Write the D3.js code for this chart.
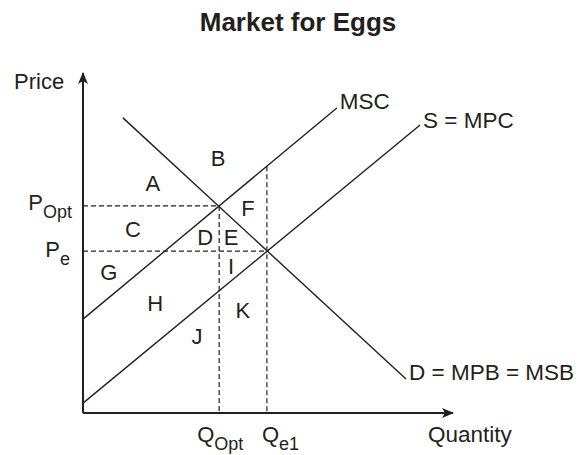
<!DOCTYPE html>
<html>
<head>
<meta charset="utf-8">
<script src="https://cdn.jsdelivr.net/npm/d3@7"></script>
<style>
  body { margin: 0; background: #fff; }
  text { font-family: "Liberation Sans", Arial, sans-serif; fill: #231f20; }
</style>
</head>
<body>
<svg id="drawing_region"></svg>
<script>
// curves as [quantity, price] end points
const mscLine = [[0, 27.6], [68.6, 89.7]];
const mpcLine = [[0, 2.9], [91.1, 84.7]];
const demandLine = [[10.8, 86.8], [87.3, 10.0]];

const curveNames = ["MSC", "S = MPC", "D = MPB = MSB"];

// equilibrium points
const qOpt = 36.8, pOpt = 60.9;
const qE1 = 49.7, pE = 47.6;

// area letters [label, quantity, price]
const areaLabels = [
    ["A", 18.9, 67.6], ["B", 36.5, 75.0], ["C", 13.5, 54.1],
    ["D", 33.0, 51.8], ["E", 40.0, 51.8], ["F", 44.6, 60.3],
    ["G", 7.0, 41.5], ["H", 19.5, 32.4], ["I", 40.0, 43.2],
    ["J", 30.8, 22.6], ["K", 43.2, 30.3]
];

const config = {
    width: 584,
    height: 455,
    margin: {top: 73, right: 131, bottom: 42, left: 83}
};

const svg = d3.select('#drawing_region')
    .attr('width', config.width)
    .attr('height', config.height);

const inner_width = config.width - config.margin.left - config.margin.right;
const inner_height = config.height - config.margin.top - config.margin.bottom;

const chart = svg.append('g')
    .attr('transform', `translate(${config.margin.left}, ${config.margin.top})`);

const xscale = d3.scaleLinear().domain([0, 100]).range([0, inner_width]);
const yscale = d3.scaleLinear().domain([0, 100]).range([inner_height, 0]);

const ink = '#231f20';

// arrow head
svg.append('defs').append('marker')
    .attr('id', 'arrow')
    .attr('viewBox', '0 0 12 10')
    .attr('refX', 11)
    .attr('refY', 5)
    .attr('markerWidth', 12)
    .attr('markerHeight', 10)
    .attr('markerUnits', 'userSpaceOnUse')
    .attr('orient', 'auto')
    .append('path')
    .attr('d', 'M0,0 L12,5 L0,10 L3,5 Z')
    .attr('fill', ink);

const line = d3.line()
    .x( d => xscale(d[0]) )
    .y( d => yscale(d[1]) );

// value of a straight curve at quantity q
const priceAt = (seg, q) => seg[0][1] + (seg[1][1] - seg[0][1]) * (q - seg[0][0]) / (seg[1][0] - seg[0][0]);

// dashed guides
const guides = [
    [[0, pOpt], [qOpt, pOpt]],
    [[0, pE], [qE1, pE]],
    [[qOpt, pOpt], [qOpt, 0]],
    [[qE1, priceAt(mscLine, qE1)], [qE1, 0]]
];
chart.selectAll('.guide')
    .data(guides)
    .enter()
    .append('path')
    .attr('class', 'guide')
    .attr('d', d => line(d))
    .attr('stroke', ink)
    .attr('stroke-width', 1.2)
    .attr('stroke-dasharray', '5,3')
    .attr('fill', 'none');

// curves
chart.selectAll('.curve')
    .data([mscLine, mpcLine, demandLine])
    .enter()
    .append('path')
    .attr('class', 'curve')
    .attr('d', d => line(d))
    .attr('stroke', ink)
    .attr('stroke-width', 1.4)
    .attr('fill', 'none');

// axes
chart.append('path')
    .attr('d', line([[0, 0], [0, 100]]))
    .attr('stroke', ink)
    .attr('stroke-width', 2)
    .attr('marker-end', 'url(#arrow)');
chart.append('path')
    .attr('d', line([[0, 0], [100, 0]]))
    .attr('stroke', ink)
    .attr('stroke-width', 2)
    .attr('marker-end', 'url(#arrow)');

// curve labels
const curveEnds = [mscLine[1], mpcLine[1], demandLine[1]];
chart.selectAll('.curve-label')
    .data(curveNames)
    .enter()
    .append('text')
    .attr('class', 'curve-label')
    .attr('x', (d, i) => xscale(curveEnds[i][0]) + 3)
    .attr('y', (d, i) => yscale(curveEnds[i][1]) + [1, 3, 1][i])
    .attr('font-size', '22.5px')
    .text(d => d);

// area letters
chart.selectAll('.area-label')
    .data(areaLabels)
    .enter()
    .append('text')
    .attr('class', 'area-label')
    .attr('x', d => xscale(d[1]))
    .attr('y', d => yscale(d[2]) + 8)
    .attr('text-anchor', 'middle')
    .attr('font-size', '22px')
    .text(d => d[0]);

// axis value labels with subscripts
function subLabel(x, y, anchor, main, sub) {
    const t = chart.append('text')
        .attr('x', x)
        .attr('y', y)
        .attr('text-anchor', anchor)
        .attr('font-size', '22px');
    t.append('tspan').text(main);
    t.append('tspan').attr('dy', 8).attr('font-size', '18px').text(sub);
}
subLabel(-11, yscale(pOpt) + 4, 'end', 'P', 'Opt');
subLabel(-13, yscale(pE) + 6, 'end', 'P', 'e');
subLabel(xscale(qOpt) - 22, inner_height + 29, 'start', 'Q', 'Opt');
subLabel(xscale(qE1) - 5, inner_height + 29, 'start', 'Q', 'e1');

// axis titles
chart.append('text')
    .attr('x', -69)
    .attr('y', 16)
    .attr('font-size', '22px')
    .text('Price');
chart.append('text')
    .attr('x', 345)
    .attr('y', inner_height + 29)
    .attr('font-size', '22.5px')
    .text('Quantity');

// title
svg.append('text')
    .attr('x', 298)
    .attr('y', 31)
    .attr('text-anchor', 'middle')
    .attr('font-size', '26px')
    .attr('font-weight', 700)
    .text('Market for Eggs');
</script>
</body>
</html>
